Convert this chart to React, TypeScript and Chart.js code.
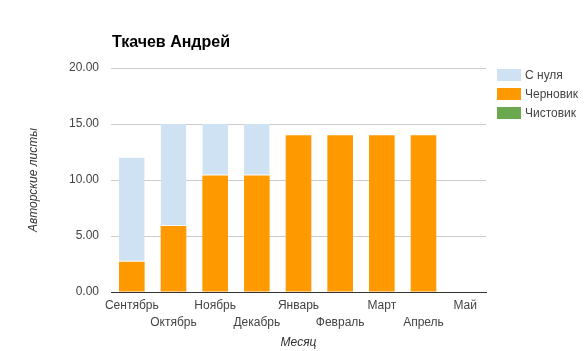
import React, { useEffect, useRef } from "react";
import { Chart, registerables } from "chart.js";

Chart.register(...registerables);

const chartTitle = "Ткачев Андрей";
const xTitle = "Месяц";
const yTitle = "Авторские листы";
const months = ["Сентябрь", "Октябрь", "Ноябрь", "Декабрь", "Январь", "Февраль", "Март", "Апрель", "Май"];
const seriesNames = ["Чистовик", "Черновик", "С нуля"];
const seriesColors = ["#6aa84f", "#ff9900", "#cfe2f3"];
const finalValues = [0, 0, 0, 0, 0, 0, 0, 0, 0];
const draftValues = [2.7, 5.9, 10.4, 10.4, 14, 14, 14, 14, 0];
const scratchValues = [9.3, 9.1, 4.6, 4.6, 0, 0, 0, 0, 0];

const FONT = "'Liberation Sans', Arial, sans-serif";

const overlayPlugin = {
  id: "overlay",
  afterDraw(chart: any) {
    const ctx = chart.ctx;
    ctx.save();
    ctx.fillStyle = "#000";
    ctx.font = `bold 16px ${FONT}`;
    ctx.textAlign = "left";
    ctx.textBaseline = "alphabetic";
    ctx.fillText(chartTitle, 112, 47);
    const ds = chart.data.datasets.slice().reverse();
    ctx.font = `12px ${FONT}`;
    ctx.textBaseline = "middle";
    ds.forEach((d: any, i: number) => {
      const top = 69 + i * 18.8;
      ctx.fillStyle = d.backgroundColor;
      ctx.fillRect(497, Math.round(top), 24, 12);
      ctx.fillStyle = "#444";
      ctx.fillText(d.label, 525, Math.round(top) + 6.5);
    });
    ctx.restore();
  },
};

export default function App() {
  const ref = useRef<HTMLCanvasElement>(null);
  useEffect(() => {
    document.body.style.margin = "0";
    const values = [finalValues, draftValues, scratchValues];
    const chart = new Chart(ref.current!, {
      type: "bar",
      data: {
        labels: months,
        datasets: seriesNames.map((name, i) => ({
          label: name,
          data: values[i],
          backgroundColor: seriesColors[i],
          borderColor: "#ffffff",
          borderWidth: i === 2 ? { top: 0, left: 0, right: 0, bottom: 1 } : 0,
          borderSkipped: false,
          barPercentage: 0.615,
          categoryPercentage: 1,
        })),
      },
      options: {
        responsive: false,
        animation: false,
        layout: { padding: { left: 0, right: 100, top: 68, bottom: 0 } },
        plugins: { legend: { display: false }, title: { display: false }, tooltip: { enabled: false } },
        scales: {
          x: {
            stacked: true,
            grid: { display: false, drawTicks: false },
            border: { display: true, color: "#333" },
            ticks: {
              autoSkip: false,
              maxRotation: 0,
              minRotation: 0,
              padding: 5,
              color: "#444",
              font: { family: FONT, size: 12, lineHeight: 1.45 },
              callback: (_v: any, i: number) => (i % 2 === 1 ? ["", months[i]] : [months[i]]),
            },
            title: {
              display: true,
              text: xTitle,
              color: "#333",
              font: { family: FONT, size: 12, style: "italic" },
              padding: { top: 0, bottom: 1 },
            },
            afterFit: (s: any) => {
              s.height = 59;
            },
          },
          y: {
            stacked: true,
            min: 0,
            max: 20,
            ticks: {
              stepSize: 5,
              padding: 12,
              color: "#444",
              font: { family: FONT, size: 12 },
              callback: (v: any) => Number(v).toFixed(2),
            },
            grid: {
              drawTicks: false,
              color: (c: any) => (c.tick && c.tick.value === 0 ? "#333" : "#cccccc"),
            },
            border: { display: false },
            title: {
              display: true,
              text: yTitle,
              color: "#333",
              font: { family: FONT, size: 12, style: "italic" },
              padding: { top: 26, bottom: 0 },
            },
            afterFit: (s: any) => {
              s.width = 111;
            },
          },
        },
      },
      plugins: [overlayPlugin],
    });
    return () => chart.destroy();
  }, []);
  return (
    <div style={{ width: 586, height: 351 }}>
      <canvas ref={ref} width={586} height={351} />
    </div>
  );
}
